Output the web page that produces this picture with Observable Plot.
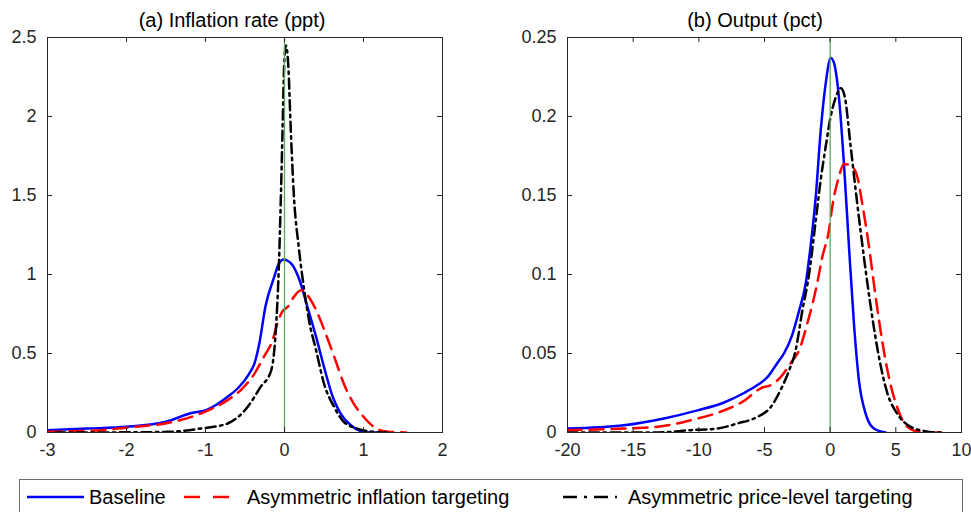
<!DOCTYPE html>
<html><head><meta charset="utf-8">
<script src="https://cdn.jsdelivr.net/npm/d3@7"></script>
<script src="https://cdn.jsdelivr.net/npm/@observablehq/plot@0.6"></script>
<style>
body{margin:0;background:#fff;}
#wrap{position:relative;width:971px;height:512px;overflow:hidden;background:#fff;font-family:"Liberation Sans",Arial,Helvetica,sans-serif;color:#262626;}
.panel{position:absolute;top:0;}
.title{position:absolute;top:8px;font-size:20px;line-height:24px;white-space:nowrap;transform:translateX(-50%);color:#000;}
#legend{position:absolute;left:19px;top:479px;width:944px;height:60px;border:1px solid #6e6e6e;box-sizing:border-box;background:#fff;}
.sw{position:absolute;top:0;}
.lt{position:absolute;top:0;font-size:20px;line-height:34px;white-space:nowrap;color:#000;}
</style>
</head><body>
<div id="wrap">
  <div class="title" id="t1" style="left:232px"></div>
  <div class="title" id="t2" style="left:755px"></div>
  <div class="panel" id="p1" style="left:0px"></div>
  <div class="panel" id="p2" style="left:490px"></div>
  <div id="legend"></div>
</div>
<script>
// ---- text ----
const panelTitles = ["(a) Inflation rate (ppt)", "(b) Output (pct)"];
const seriesNames = ["Baseline", "Asymmetric inflation targeting", "Asymmetric price-level targeting"];

// ---- ticks ----
const infXTicks = [-3, -2, -1, 0, 1, 2];
const infYTicks = [0, 0.5, 1, 1.5, 2, 2.5];
const outXTicks = [-20, -15, -10, -5, 0, 5, 10];
const outYTicks = [0, 0.05, 0.1, 0.15, 0.2, 0.25];
const refLine = [0];

// ---- (a) Inflation rate densities ----
const infBaseX = [-3,-2.5,-2,-1.5,-1.2,-0.97,-0.72,-0.59,-0.45,-0.38,-0.32,-0.24,-0.13,-0.07,-0.01,0.04,0.10,0.19,0.29,0.40,0.50,0.61,0.71,0.84,0.97,1.09,1.3];
const infBaseY = [0.015,0.025,0.036,0.068,0.12,0.146,0.226,0.28,0.37,0.437,0.56,0.80,0.985,1.07,1.095,1.087,1.06,0.965,0.795,0.605,0.415,0.226,0.12,0.046,0.008,0,0];
const infAitX = [-3,-2.32,-1.9,-1.48,-1.06,-0.72,-0.55,-0.38,-0.26,-0.15,-0.09,-0.03,0.04,0.12,0.21,0.33,0.42,0.52,0.63,0.75,0.88,1.0,1.13,1.26,1.54];
const infAitY = [0.005,0.015,0.036,0.06,0.12,0.205,0.27,0.373,0.48,0.585,0.69,0.764,0.795,0.86,0.90,0.84,0.753,0.627,0.479,0.31,0.18,0.10,0.036,0.008,0];
const infAplX = [-2.9,-2.0,-1.48,-1.06,-0.72,-0.47,-0.30,-0.17,-0.11,-0.07,-0.046,-0.025,-0.004,0.017,0.047,0.08,0.12,0.18,0.25,0.31,0.40,0.50,0.63,0.75,0.92,1.13,1.30];
const infAplY = [0,0.001,0.004,0.025,0.057,0.16,0.29,0.39,0.648,1.07,1.49,1.91,2.33,2.45,2.33,1.91,1.49,1.175,0.90,0.71,0.52,0.31,0.16,0.068,0.025,0.004,0];

// ---- (b) Output densities ----
const outBaseX = [-20,-15.7,-12.65,-10.1,-8.08,-6.56,-5.54,-4.78,-4.02,-3.52,-2.88,-2.37,-1.87,-1.49,-1.1,-0.72,-0.34,0.05,0.29,0.67,1.05,1.43,1.81,2.19,2.70,3.33,4.22];
const outBaseY = [0.0025,0.0046,0.0089,0.014,0.019,0.025,0.030,0.035,0.044,0.050,0.062,0.077,0.094,0.118,0.149,0.191,0.221,0.237,0.234,0.212,0.170,0.118,0.069,0.033,0.012,0.0025,0];
const outAitX = [-20,-15.7,-13.15,-10.6,-8.08,-6.56,-5.29,-4.53,-3.77,-3.0,-2.37,-1.74,-1.0,-0.6,-0.09,0.16,0.67,1.05,1.56,2.06,2.44,2.95,3.46,3.96,4.47,5.1,5.87,6.75,8.5];
const outAitY = [0.0015,0.0025,0.0036,0.0078,0.014,0.020,0.028,0.030,0.035,0.044,0.052,0.069,0.094,0.111,0.128,0.143,0.162,0.170,0.169,0.162,0.145,0.118,0.086,0.058,0.035,0.016,0.0036,0.0005,0];
const outAplX = [-20,-13.15,-10.6,-8.59,-7.07,-5.54,-4.53,-3.77,-3.14,-2.63,-2.12,-1.61,-1.1,-0.72,-0.34,0.04,0.42,0.8,1.1,1.56,2.06,2.57,3.08,3.71,4.35,5.1,6.12,7.14,8.15,8.6];
const outAplY = [0,0,0.0015,0.0025,0.0057,0.0099,0.016,0.027,0.039,0.052,0.077,0.10,0.134,0.160,0.181,0.20,0.212,0.218,0.213,0.181,0.145,0.111,0.080,0.048,0.025,0.012,0.0036,0.001,0,0];

// ---- styles ----
const seriesStyles = [
  {stroke: "#0000ff", dash: null},
  {stroke: "#ff0000", dash: "14,8"},
  {stroke: "#000000", dash: "10,4.5,2.5,4.5"}
];
const axisColor = "#262626";
const refColor = "#5aa85a";

const toRows = (xs, ys) => xs.map((x, i) => ({x, y: ys[i]}));

function panel({xDomain, yDomain, xTicks, yTicks, series, width, marginLeft, marginRight}) {
  const H = 470, mt = 37, mb = 38;
  const ph = H - mt - mb;
  const pw = width - marginLeft - marginRight;
  const fmt = d => String(d);
  return Plot.plot({
    width, height: H, marginLeft, marginRight, marginTop: mt, marginBottom: mb,
    x: {domain: xDomain}, y: {domain: yDomain},
    style: {fontFamily: '"Liberation Sans", Arial, Helvetica, sans-serif', fontSize: "18px", color: axisColor, background: "transparent", overflow: "visible"},
    marks: [
      ...series.map((s, i) => Plot.line(s, {x: "x", y: "y", stroke: seriesStyles[i].stroke, strokeWidth: 2.5,
        strokeDasharray: seriesStyles[i].dash, curve: "monotone-x", clip: true})),
      Plot.ruleX(refLine, {stroke: refColor, strokeWidth: 1.3}),
      Plot.frame({stroke: axisColor, strokeWidth: 1}),
      Plot.ruleX(xTicks, {stroke: axisColor, insetTop: ph - 5}),
      Plot.ruleX(xTicks, {stroke: axisColor, insetBottom: ph - 5}),
      Plot.ruleY(yTicks, {stroke: axisColor, insetRight: pw - 5}),
      Plot.ruleY(yTicks, {stroke: axisColor, insetLeft: pw - 5}),
      Plot.axisX(xTicks, {tickSize: 0, tickPadding: 11, tickFormat: fmt, label: null, fontSize: 18, fill: axisColor}),
      Plot.axisY(yTicks, {tickSize: 0, tickPadding: 11, tickFormat: fmt, label: null, fontSize: 18, fill: axisColor})
    ]
  });
}

document.getElementById("t1").textContent = panelTitles[0];
document.getElementById("t2").textContent = panelTitles[1];

document.getElementById("p1").appendChild(panel({
  xDomain: [-3, 2], yDomain: [0, 2.5], xTicks: infXTicks, yTicks: infYTicks,
  series: [toRows(infBaseX, infBaseY), toRows(infAitX, infAitY), toRows(infAplX, infAplY)],
  width: 480, marginLeft: 47, marginRight: 38
}));
document.getElementById("p2").appendChild(panel({
  xDomain: [-20, 10], yDomain: [0, 0.25], xTicks: outXTicks, yTicks: outYTicks,
  series: [toRows(outBaseX, outBaseY), toRows(outAitX, outAitY), toRows(outAplX, outAplY)],
  width: 481, marginLeft: 77, marginRight: 10
}));

// ---- legend ----
const legend = document.getElementById("legend");
const swatchLeft = [7, 164, 543];
const swatchW = [57, 47, 54];
const textLeft = [69, 227, 608];
seriesNames.forEach((name, i) => {
  const ns = "http://www.w3.org/2000/svg";
  const svg = document.createElementNS(ns, "svg");
  svg.setAttribute("class", "sw");
  svg.setAttribute("width", swatchW[i]);
  svg.setAttribute("height", 34);
  svg.style.left = swatchLeft[i] + "px";
  const ln = document.createElementNS(ns, "line");
  ln.setAttribute("x1", 0); ln.setAttribute("x2", swatchW[i]);
  ln.setAttribute("y1", 17); ln.setAttribute("y2", 17);
  ln.setAttribute("stroke", seriesStyles[i].stroke);
  ln.setAttribute("stroke-width", 2.5);
  if (seriesStyles[i].dash) ln.setAttribute("stroke-dasharray", i === 1 ? "16,13" : "14,7,3,7");
  svg.appendChild(ln);
  legend.appendChild(svg);
  const t = document.createElement("div");
  t.className = "lt";
  t.style.left = textLeft[i] + "px";
  t.textContent = name;
  legend.appendChild(t);
});
</script>
</body></html>
